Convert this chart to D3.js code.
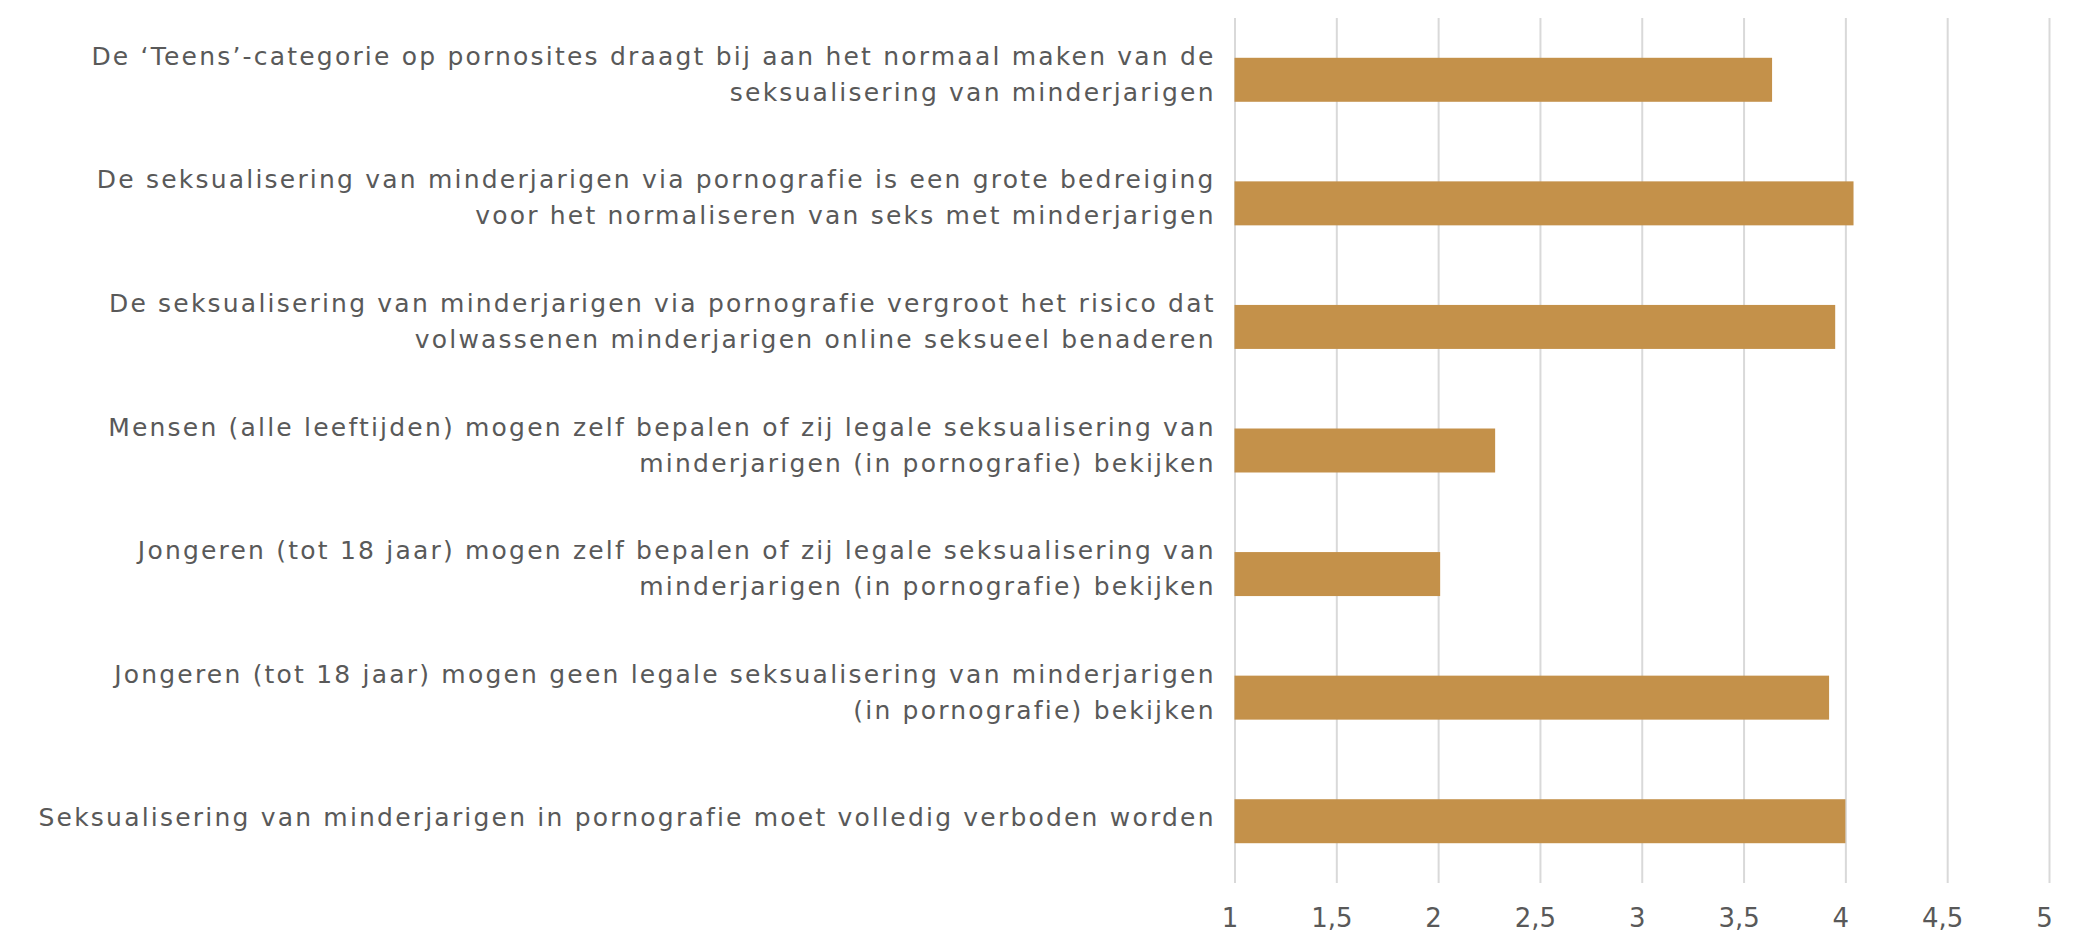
<!DOCTYPE html>
<html>
<head>
<meta charset="utf-8">
<script src="https://cdn.jsdelivr.net/npm/d3@7"></script>
<style>
  body { margin: 0; background: #fff; }
  svg text { font-family: "DejaVu Sans", Verdana, sans-serif; fill: #595959; }
</style>
</head>
<body>
<div id="chart"></div>
<script>
// statements, top to bottom (line breaks as in the picture)
var statements = [
    ["De \u2018Teens\u2019-categorie op pornosites draagt bij aan het normaal maken van de", "seksualisering van minderjarigen"],
    ["De seksualisering van minderjarigen via pornografie is een grote bedreiging", "voor het normaliseren van seks met minderjarigen"],
    ["De seksualisering van minderjarigen via pornografie vergroot het risico dat", "volwassenen minderjarigen online seksueel benaderen"],
    ["Mensen (alle leeftijden) mogen zelf bepalen of zij legale seksualisering van", "minderjarigen (in pornografie) bekijken"],
    ["Jongeren (tot 18 jaar) mogen zelf bepalen of zij legale seksualisering van", "minderjarigen (in pornografie) bekijken"],
    ["Jongeren (tot 18 jaar) mogen geen legale seksualisering van minderjarigen", "(in pornografie) bekijken"],
    ["Seksualisering van minderjarigen in pornografie moet volledig verboden worden"]
];

// mean scores
var scores = [3.64, 4.04, 3.95, 2.28, 2.01, 3.92, 4.0];

var xTicks = [1, 1.5, 2, 2.5, 3, 3.5, 4, 4.5, 5];

var svgWidth = 2074;
var svgHeight = 932;

var plot = { left: 1234.5, right: 2049, top: 18, bottom: 883 };

var svg = d3.select("#chart")
    .append("svg")
    .attr("width", svgWidth)
    .attr("height", svgHeight);

var data = statements.map(function(s, i) {
    return { id: i, lines: s, value: scores[i] };
});

var xScale = d3.scaleLinear()
    .domain([1, 5])
    .range([plot.left, plot.right]);

var yScale = d3.scaleBand()
    .domain(data.map(d => d.id))
    .range([plot.top, plot.bottom])
    .paddingInner(0.644)
    .paddingOuter(0.322);

// gridlines
var grid = svg.append("g")
    .attr("class", "grid")
    .attr("transform", `translate(0, ${plot.bottom})`)
    .call(d3.axisBottom(xScale)
        .tickValues(xTicks)
        .tickSize(-(plot.bottom - plot.top))
        .tickFormat(""));
grid.select(".domain").remove();
grid.selectAll("line").attr("stroke", "#d9d9d9").attr("stroke-width", 2);

// tick labels
var xAxis = svg.append("g")
    .attr("class", "xAxis")
    .attr("transform", `translate(-5, ${plot.bottom})`)
    .call(d3.axisBottom(xScale)
        .tickValues(xTicks)
        .tickSize(0)
        .tickPadding(0)
        .tickFormat(d => String(d).replace(".", ",")));
xAxis.select(".domain").remove();
xAxis.selectAll("text")
    .attr("y", 44)
    .attr("dy", null)
    .style("font-size", "26px")
    .style("fill", "#595959");

// bars
svg.selectAll(".bar")
    .data(data)
    .enter()
    .append("rect")
    .attr("class", "bar")
    .attr("x", xScale(1))
    .attr("y", d => yScale(d.id))
    .attr("width", d => xScale(d.value) - xScale(1))
    .attr("height", yScale.bandwidth())
    .attr("fill", "#c4914a");

// category labels, clipped at the left like the original
svg.append("clipPath")
    .attr("id", "labelClip")
    .append("rect")
    .attr("x", 37)
    .attr("y", 0)
    .attr("width", svgWidth)
    .attr("height", svgHeight);

var labels = svg.append("g")
    .attr("clip-path", "url(#labelClip)");

var lineGap = 36;
var spacing = 2.2;
data.forEach(function(d) {
    var cy = yScale(d.id) + yScale.bandwidth() / 2;
    var n = d.lines.length;
    var shift = n === 1 ? 5 : 3;
    d.lines.forEach(function(line, j) {
        labels.append("text")
            .attr("x", plot.left - 21 + spacing)
            .attr("y", cy + shift + (j - (n - 1) / 2) * lineGap)
            .attr("text-anchor", "end")
            .style("font-size", "25px")
            .style("letter-spacing", spacing + "px")
            .text(line);
    });
});
</script>
</body>
</html>
